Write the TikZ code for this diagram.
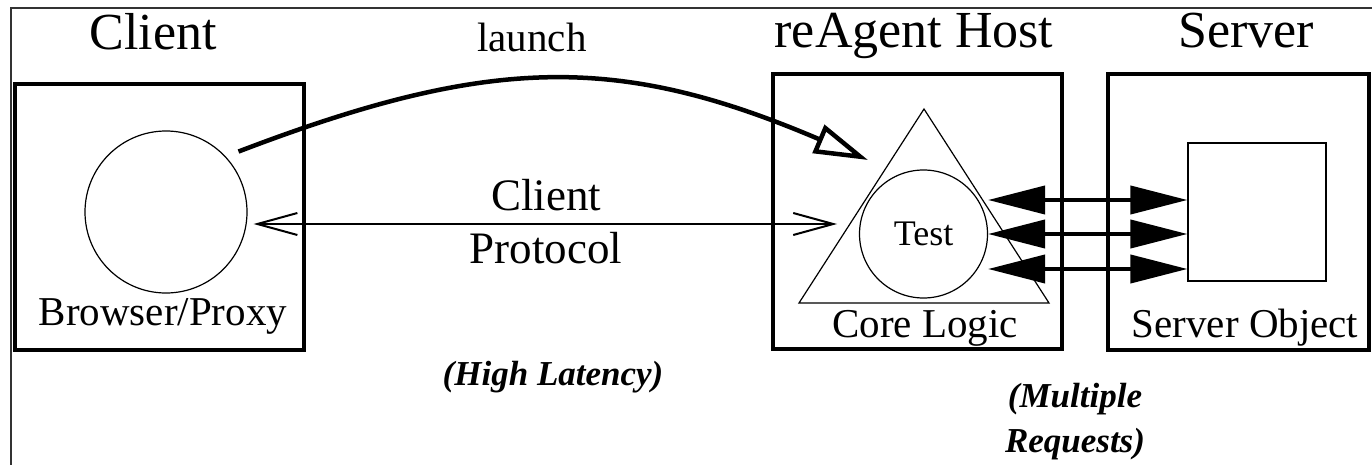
\documentclass[tikz,border=0pt]{standalone}
\usepackage{fontspec}
\setmainfont{Liberation Serif}
\usetikzlibrary{arrows.meta}

\begin{document}
\begin{tikzpicture}[x=1pt, y=-1pt,
	box/.style={draw, line width=4pt, inner sep=0pt},
	thinShape/.style={draw, line width=1.2pt, inner sep=0pt},
	titleText/.style={anchor=base, font=\fontsize{52}{56}\selectfont},
	bodyText/.style={anchor=base, font=\fontsize{41}{45}\selectfont},
	noteText/.style={anchor=base, align=center, font=\fontsize{35}{45}\selectfont\bfseries\itshape},
	reqArrow/.style={line width=4pt, {Triangle[length=57pt, width=28pt]}-{Triangle[length=57pt, width=28pt]}}]
			\useasboundingbox (0,0) rectangle (1372,465);
			\draw[line width=2.5pt, black!80] (11,465) -- (11,8) -- (1372,8);
			
			\node[box, minimum width=289pt, minimum height=266pt] (clientBox) at (159.5,217){};
			\node[box, minimum width=289pt, minimum height=275pt] (hostBox) at (917.5,211.5){};
			\node[box, minimum width=261pt, minimum height=276pt] (serverBox) at (1238.5,212){};
			
			\node[titleText] (clientTitle) at (153,50){Client};
			\node[titleText] (hostTitle) at (914,48){reAgent Host};
			\node[titleText] (serverTitle) at (1246,48){Server};
			
			\node[thinShape, circle, minimum size=162pt] (browserCircle) at (166,212){};
			\node[bodyText] (browserLabel) at (163,325){Browser/Proxy};
			
			\coordinate (triTop) at (924,109);
			\coordinate (triLeft) at (799,303);
			\coordinate (triRight) at (1049,303);
			\draw[line width=1.2pt] (triTop) -- (triLeft) -- (triRight) -- cycle;
			\node[thinShape, circle, minimum size=128pt, font=\fontsize{36}{40}\selectfont] (testCircle) at (923.5,234){Test};
			\node[bodyText] (coreLabel) at (925,337){Core Logic};
			
			\node[thinShape, minimum size=138pt] (serverObj) at (1257,212){};
			\node[bodyText] (serverLabel) at (1245,337){Server Object};
			
			\node[bodyText] (launchLabel) at (532,52){launch};
			\coordinate (launchTip) at (868,160);
			\draw[line width=4.5pt, -{Triangle[open, length=54pt, width=30pt]}] ([shift={(10pt,8pt)}]browserCircle.40) .. controls (491,55) and (619,54) .. (launchTip);
			
			\coordinate (protoTip) at (837,224);
			\draw[line width=2pt, {Straight Barb[length=40pt, width=22pt]}-{Straight Barb[length=40pt, width=22pt]}] ([shift={(6pt,-12pt)}]browserCircle.east) -- (protoTip);
			\node[bodyText, align=center, font=\fontsize{45}{53}\selectfont] (protoLabel) at (546,263){Client\\Protocol};
			
			\draw[reqArrow] ([yshift=34pt]testCircle.east) -- ([yshift=34pt]testCircle.east -| serverObj.west);
			\draw[reqArrow] (testCircle.east) -- (testCircle.east -| serverObj.west);
			\draw[reqArrow] ([yshift=-35pt]testCircle.east) -- ([yshift=-35pt]testCircle.east -| serverObj.west);
			
			\node[noteText] (latencyNote) at (553,385){(High Latency)};
			\node[noteText] (requestNote) at (1075,452){(Multiple\\Requests)};
		\end{tikzpicture}
\end{document}
